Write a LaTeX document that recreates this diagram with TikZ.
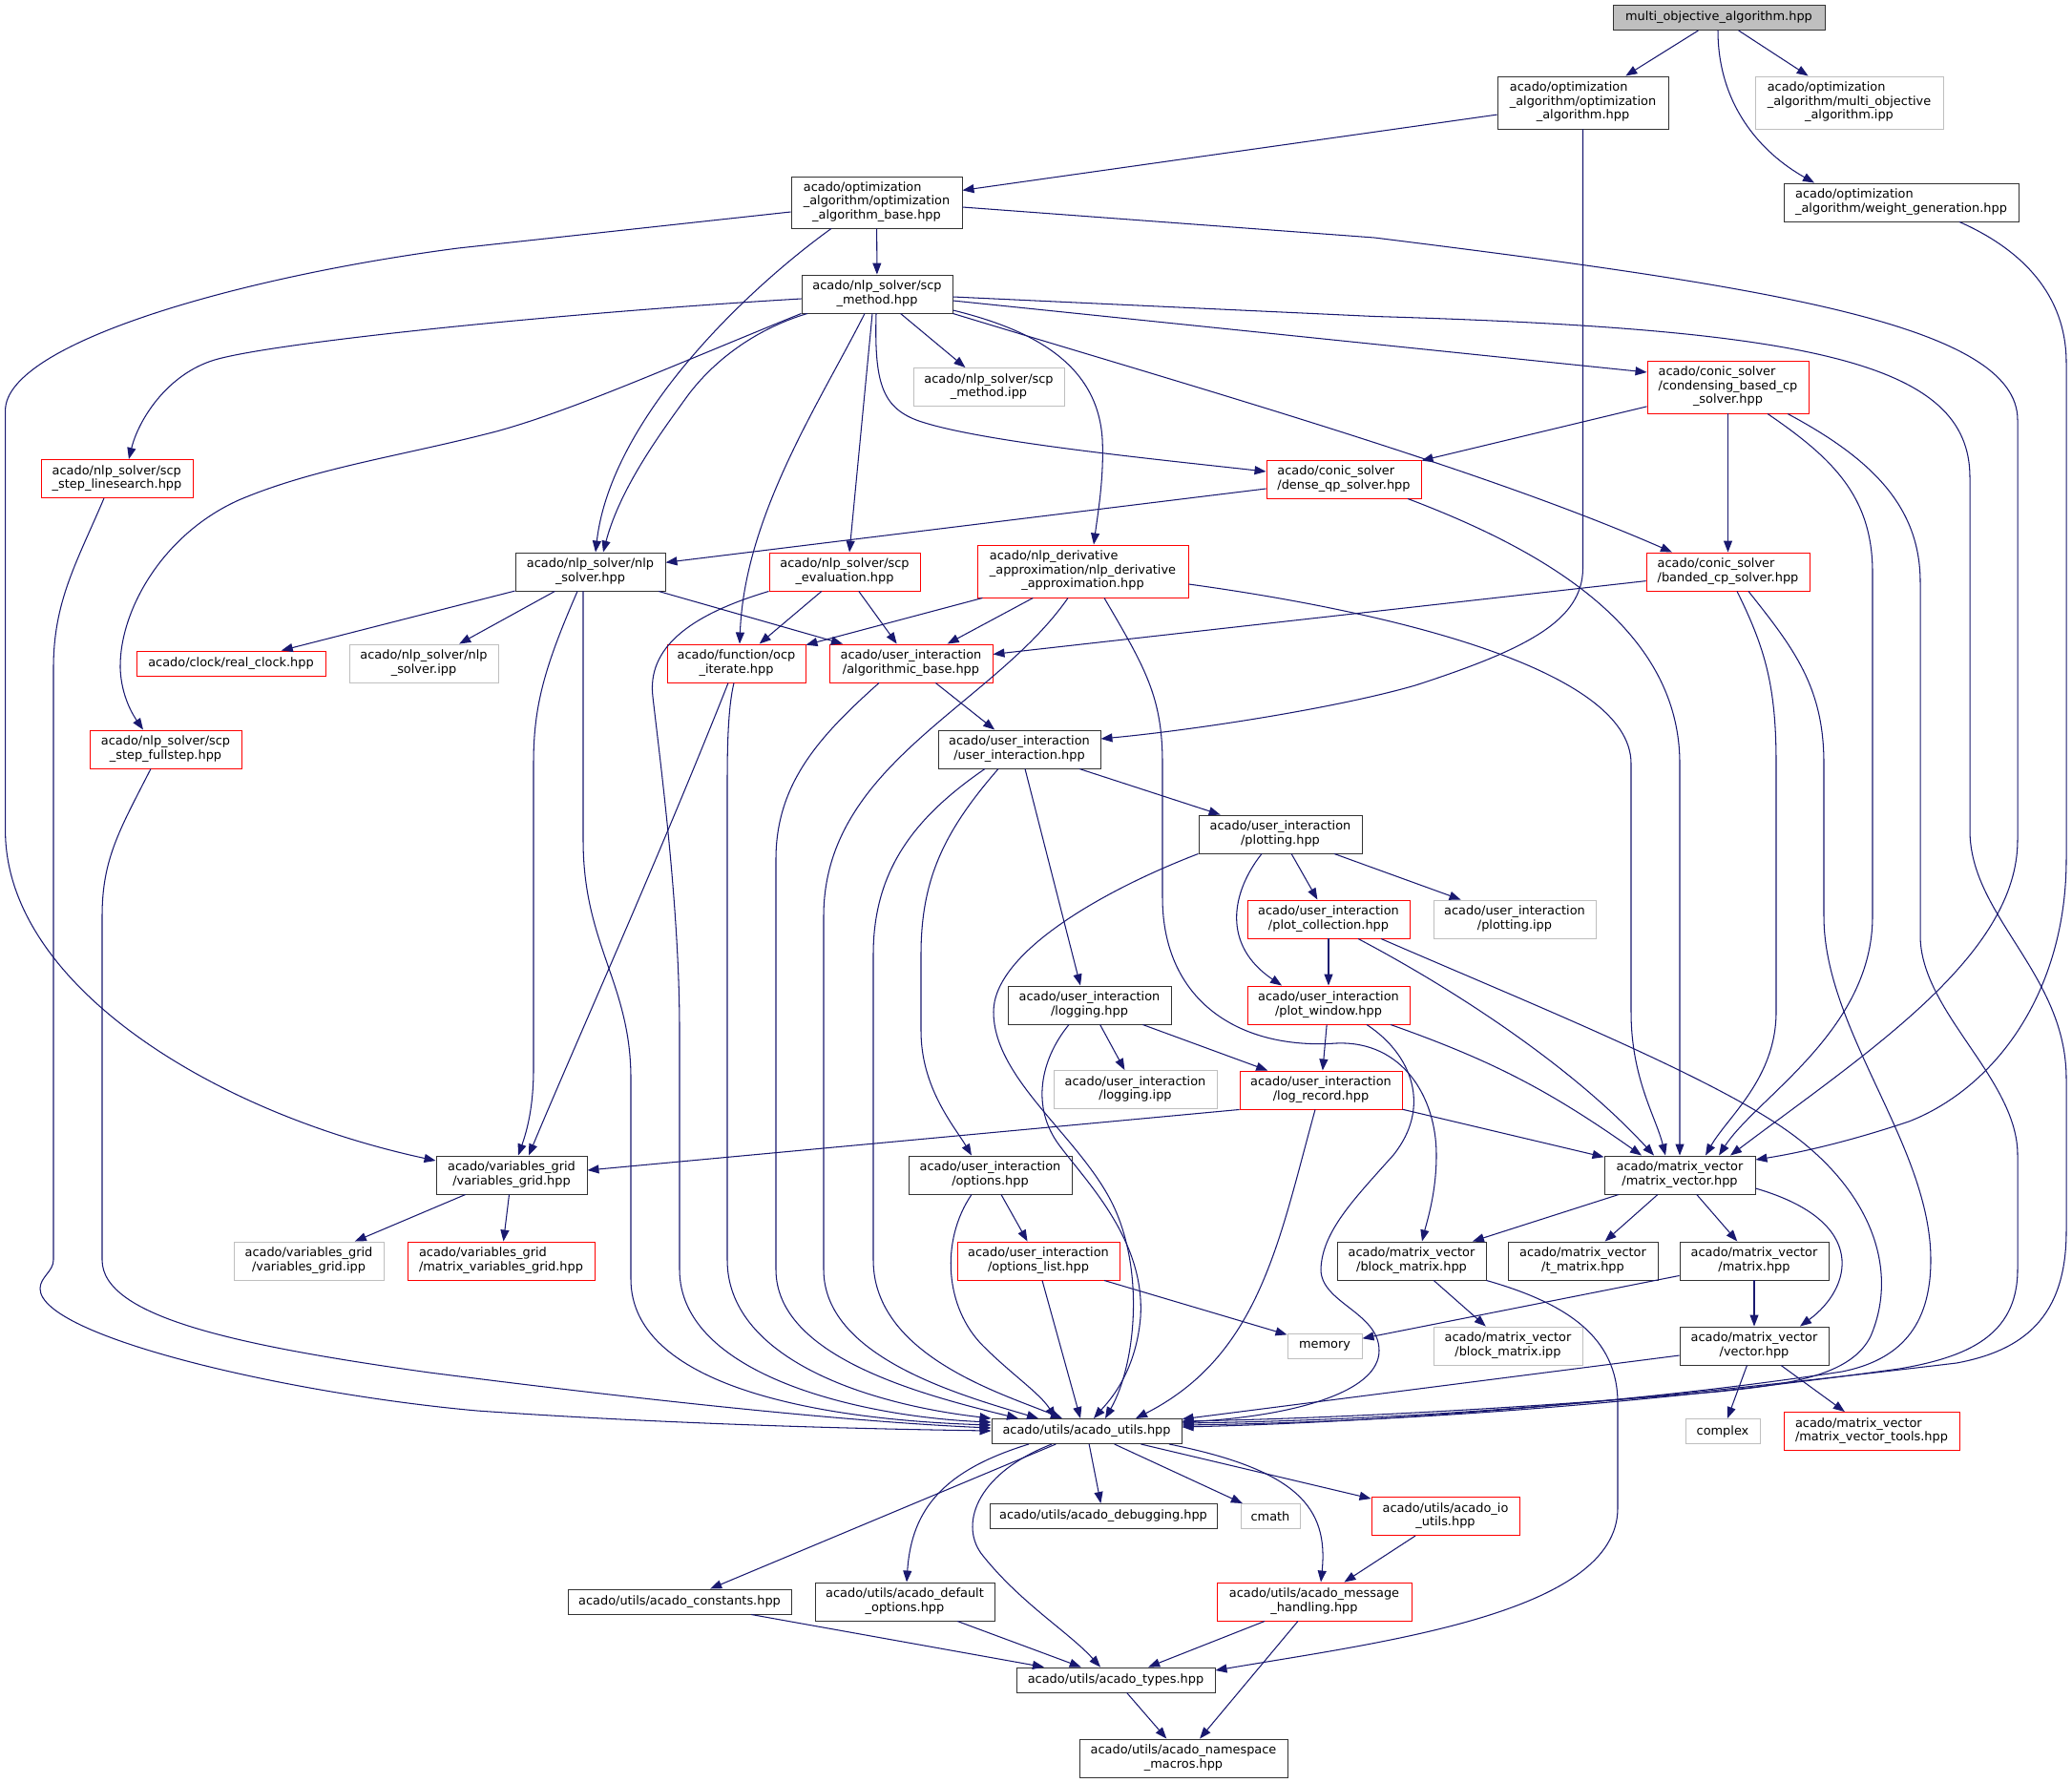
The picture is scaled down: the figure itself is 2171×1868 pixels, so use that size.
\documentclass[tikz,border=0pt]{standalone}
\usepackage{fontspec}
\setmainfont{DejaVu Sans}
\usetikzlibrary{arrows.meta}
\definecolor{edgec}{HTML}{191970}
\definecolor{blkb}{HTML}{333333}
\definecolor{redb}{HTML}{FF0000}
\definecolor{grayb}{HTML}{BFBFBF}
\newcommand\Ltwo[2]{\begin{tabular}{@{}l@{}}#1\\\multicolumn{1}{@{}c@{}}{#2}\end{tabular}}
\newcommand\Lthree[3]{\begin{tabular}{@{}l@{}}#1\\#2\\\multicolumn{1}{@{}c@{}}{#3}\end{tabular}}
\tikzset{
  nd/.style={draw, line width=0.95pt, fill=white, inner sep=0pt, text=black, font=\fontsize{12.9pt}{14.5pt}\selectfont},
  blk/.style={nd, draw=blkb},
  redn/.style={nd, draw=redb},
  gryn/.style={nd, draw=grayb},
  topn/.style={nd, draw=blkb, fill=grayb},
  bx/.style 2 args={minimum width=#1pt, minimum height=#2pt},
  edg/.style={draw=edgec, line width=1.05pt, -{Triangle[length=12pt,width=9pt]}},
}
\begin{document}
\begin{tikzpicture}[x=1pt,y=-1pt]
\fill[white] (0,0) rectangle (2171,1868);
\useasboundingbox (0,0) rectangle (2171,1868);

% ---------------- nodes ----------------
\node[topn,bx={222}{26}] (n1) at (1801,18.5) {multi\_objective\_algorithm.hpp};
\node[blk,bx={179}{55}] (oa) at (1658.5,107.5) {\Lthree{acado/optimization}{\_algorithm/optimization}{\_algorithm.hpp}};
\node[gryn,bx={197}{55}] (moipp) at (1937.5,107.5) {\Lthree{acado/optimization}{\_algorithm/multi\_objective}{\_algorithm.ipp}};
\node[blk,bx={246}{40}] (wg) at (1992,212) {\Ltwo{acado/optimization}{\_algorithm/weight\_generation.hpp}};
\node[blk,bx={179}{54}] (ob) at (918.5,212) {\Lthree{acado/optimization}{\_algorithm/optimization}{\_algorithm\_base.hpp}};
\node[blk,bx={158}{40}] (scp) at (919,308) {\Ltwo{acado/nlp\_solver/scp}{\_method.hpp}};
\node[gryn,bx={158}{40}] (scpipp) at (1036,405.5) {\Ltwo{acado/nlp\_solver/scp}{\_method.ipp}};
\node[redn,bx={159}{40}] (lsearch) at (122.5,501.5) {\Ltwo{acado/nlp\_solver/scp}{\_step\_linesearch.hpp}};
\node[redn,bx={169}{55}] (cond) at (1810.5,405.5) {\Lthree{acado/conic\_solver}{/condensing\_based\_cp}{\_solver.hpp}};
\node[redn,bx={162}{40}] (dqp) at (1408,502) {\Ltwo{acado/conic\_solver}{/dense\_qp\_solver.hpp}};
\node[blk,bx={157}{40}] (nlps) at (618.5,599) {\Ltwo{acado/nlp\_solver/nlp}{\_solver.hpp}};
\node[redn,bx={158}{40}] (scpev) at (885,599) {\Ltwo{acado/nlp\_solver/scp}{\_evaluation.hpp}};
\node[redn,bx={221}{55}] (nlpd) at (1134.5,598.5) {\Lthree{acado/nlp\_derivative}{\_approximation/nlp\_derivative}{\_approximation.hpp}};
\node[redn,bx={171}{40}] (banded) at (1810.5,599) {\Ltwo{acado/conic\_solver}{/banded\_cp\_solver.hpp}};
\node[redn,bx={198}{26}] (clock) at (242,695) {acado/clock/real\_clock.hpp};
\node[gryn,bx={156}{40}] (nlpipp) at (444,695) {\Ltwo{acado/nlp\_solver/nlp}{\_solver.ipp}};
\node[redn,bx={145}{40}] (ocp) at (771.5,695) {\Ltwo{acado/function/ocp}{\_iterate.hpp}};
\node[redn,bx={171}{40}] (algb) at (954.5,695) {\Ltwo{acado/user\_interaction}{/algorithmic\_base.hpp}};
\node[redn,bx={159}{40}] (fullstep) at (173.5,785) {\Ltwo{acado/nlp\_solver/scp}{\_step\_fullstep.hpp}};
\node[blk,bx={170}{40}] (ui) at (1068,785) {\Ltwo{acado/user\_interaction}{/user\_interaction.hpp}};
\node[blk,bx={171}{40}] (plotting) at (1341.5,874) {\Ltwo{acado/user\_interaction}{/plotting.hpp}};
\node[redn,bx={170}{40}] (plotcoll) at (1392,963) {\Ltwo{acado/user\_interaction}{/plot\_collection.hpp}};
\node[gryn,bx={170}{40}] (plotipp) at (1587,963) {\Ltwo{acado/user\_interaction}{/plotting.ipp}};
\node[blk,bx={171}{40}] (logging) at (1141.5,1053) {\Ltwo{acado/user\_interaction}{/logging.hpp}};
\node[redn,bx={170}{40}] (plotwin) at (1392,1053) {\Ltwo{acado/user\_interaction}{/plot\_window.hpp}};
\node[gryn,bx={171}{40}] (logipp) at (1189.5,1141.5) {\Ltwo{acado/user\_interaction}{/logging.ipp}};
\node[redn,bx={170}{40}] (logrec) at (1384,1142) {\Ltwo{acado/user\_interaction}{/log\_record.hpp}};
\node[blk,bx={158}{40}] (vg) at (536,1231) {\Ltwo{acado/variables\_grid}{/variables\_grid.hpp}};
\node[blk,bx={171}{40}] (opts) at (1037.5,1231) {\Ltwo{acado/user\_interaction}{/options.hpp}};
\node[blk,bx={158}{40}] (mv) at (1760,1231) {\Ltwo{acado/matrix\_vector}{/matrix\_vector.hpp}};
\node[gryn,bx={157}{40}] (vgipp) at (323.5,1321) {\Ltwo{acado/variables\_grid}{/variables\_grid.ipp}};
\node[redn,bx={196}{40}] (mvg) at (525,1321) {\Ltwo{acado/variables\_grid}{/matrix\_variables\_grid.hpp}};
\node[redn,bx={170}{40}] (optlist) at (1088,1321) {\Ltwo{acado/user\_interaction}{/options\_list.hpp}};
\node[blk,bx={156}{40}] (bm) at (1479,1321) {\Ltwo{acado/matrix\_vector}{/block\_matrix.hpp}};
\node[blk,bx={157}{40}] (tm) at (1658.5,1321) {\Ltwo{acado/matrix\_vector}{/t\_matrix.hpp}};
\node[blk,bx={156}{40}] (mat) at (1838,1321) {\Ltwo{acado/matrix\_vector}{/matrix.hpp}};
\node[gryn,bx={78}{26}] (memory) at (1388,1410) {memory};
\node[gryn,bx={156}{40}] (bmipp) at (1580,1410) {\Ltwo{acado/matrix\_vector}{/block\_matrix.ipp}};
\node[blk,bx={156}{40}] (vec) at (1838,1410) {\Ltwo{acado/matrix\_vector}{/vector.hpp}};
\node[blk,bx={199}{26}] (utils) at (1138.5,1499.5) {acado/utils/acado\_utils.hpp};
\node[gryn,bx={78}{26}] (complex) at (1805,1499.5) {complex};
\node[redn,bx={184}{40}] (mvt) at (1961,1499.5) {\Ltwo{acado/matrix\_vector}{/matrix\_vector\_tools.hpp}};
\node[blk,bx={238}{26}] (dbg) at (1156,1588.5) {acado/utils/acado\_debugging.hpp};
\node[gryn,bx={62}{26}] (cmath) at (1331,1588.5) {cmath};
\node[redn,bx={155}{40}] (io) at (1514.5,1588.5) {\Ltwo{acado/utils/acado\_io}{\_utils.hpp}};
\node[blk,bx={234}{26}] (const) at (712,1678) {acado/utils/acado\_constants.hpp};
\node[blk,bx={188}{40}] (defopt) at (948,1678) {\Ltwo{acado/utils/acado\_default}{\_options.hpp}};
\node[redn,bx={204}{40}] (msg) at (1377,1678) {\Ltwo{acado/utils/acado\_message}{\_handling.hpp}};
\node[blk,bx={208}{26}] (types) at (1169,1760) {acado/utils/acado\_types.hpp};
\node[blk,bx={218}{40}] (ns) at (1240,1842) {\Ltwo{acado/utils/acado\_namespace}{\_macros.hpp}};

% ---------------- edges ----------------
% top
\draw[edg] (n1) -- (oa);
\draw[edg] (n1) -- (moipp);
\draw[edg] (n1.south -| 1800,0) .. controls (1800,110) and (1845,160) .. (wg.north -| 1901,0);
\draw[edg] (oa) -- (ob);
\draw[edg] (oa.south) -- (1658.5,595) .. controls (1658.5,650) and (1600,680) .. (1483,718) .. controls (1400,742) and (1250,765) .. (ui.east |- 0,774);
\draw[edg] (wg.south -| 2053,0) .. controls (2120,262) and (2165,310) .. (2165,380) -- (2165,900) .. controls (2165,1040) and (2090,1140) .. (2000,1175) .. controls (1940,1195) and (1890,1207) .. (mv.east |- 0,1215);
% optimization_algorithm_base
\draw[edg] (ob) -- (scp);
\draw[edg] (ob.west |- 0,222) -- (480,260) .. controls (250,290) and (5.6,360) .. (5.6,430) -- (5.6,870) .. controls (5.6,1030) and (220,1165) .. (vg.west |- 0,1216);
\draw[edg] (ob.south -| 871,0) .. controls (780,305) and (640,440) .. (nlps.north -| 624,0);
\draw[edg] (ob.east |- 0,217) -- (1440,249) .. controls (1850,300) and (2114,340) .. (2114,440) -- (2114,880) .. controls (2114,1000) and (1960,1100) .. (mv.north -| 1813,0);
% scp_method
\draw[edg] (scp.west |- 0,313) .. controls (600,327) and (290,358) .. (225,377) .. controls (175,392) and (145,440) .. (lsearch.north -| 135,0);
\draw[edg] (scp.south west) .. controls (700,385) and (600,430) .. (520,452) .. controls (420,478) and (330,490) .. (250,524) .. controls (170,560) and (125,640) .. (126,700) .. controls (127,730) and (140,750) .. (fullstep.north -| 150,0);
\draw[edg] (scp.south -| 846,0) .. controls (790,345) and (745,380) .. (718,418) .. controls (695,450) and (650,510) .. (nlps.north -| 632,0);
\draw[edg] (scp) -- (scpipp);
\draw[edg] (scp.south -| 906,0) .. controls (860,420) and (780,540) .. (ocp.north -| 775,0);
\draw[edg] (scp.south -| 914,0) -- (scpev.north -| 890,0);
\draw[edg] (scp.south -| 918,0) .. controls (916,400) and (924,426) .. (960,440) .. controls (1020,462) and (1200,480) .. (dqp.west |- 0,494);
\draw[edg] (scp.east |- 0,325) .. controls (1080,345) and (1150,380) .. (1155,460) .. controls (1157,500) and (1150,540) .. (nlpd.north -| 1146,0);
\draw[edg] (scp.east |- 0,315) -- (cond.west |- 0,390);
\draw[edg] (scp.south east) .. controls (1250,405) and (1550,490) .. (banded.north -| 1752,0);
\draw[edg] (scp.east |- 0,311) -- (1440,331.5) .. controls (1900,345) and (2064,380) .. (2064,500) -- (2064,870) .. controls (2064,960) and (2165,1020) .. (2165,1130) -- (2165,1290) .. controls (2165,1380) and (2120,1415) .. (2050,1428) .. controls (1700,1470) and (1450,1490) .. (utils.east |- 0,1495);
% condensing based
\draw[edg] (cond) -- (dqp);
\draw[edg] (cond) -- (banded);
\draw[edg] (cond.south -| 1852,0) .. controls (1920,480) and (1962,520) .. (1962,600) -- (1962,960) .. controls (1962,1080) and (1840,1150) .. (mv.north -| 1801,0);
\draw[edg] (cond.south -| 1873,0) .. controls (1960,480) and (2012,530) .. (2012,610) -- (2012,980) .. controls (2012,1060) and (2114,1130) .. (2114,1210) -- (2114,1330) .. controls (2114,1400) and (2060,1422) .. (1990,1434) .. controls (1700,1474) and (1450,1490) .. (utils.east |- 0,1493);
% dense qp
\draw[edg] (dqp) -- (nlps);
\draw[edg] (dqp.south -| 1475,0) .. controls (1600,570) and (1760,650) .. (1760,800) -- (mv.north);
% linesearch / fullstep
\draw[edg] (lsearch.south -| 109,0) .. controls (80,590) and (56,630) .. (56,700) -- (56,1320) .. controls (56,1332) and (42,1338) .. (42,1350) .. controls (42,1400) and (300,1460) .. (500,1478) .. controls (700,1492) and (900,1497) .. (utils.west |- 0,1499);
\draw[edg] (fullstep.south -| 158,0) .. controls (125,870) and (107,900) .. (107,960) -- (107,1320) .. controls (107,1380) and (250,1410) .. (450,1438) .. controls (700,1470) and (900,1490) .. (utils.west |- 0,1496);
% nlp_solver
\draw[edg] (nlps) -- (clock);
\draw[edg] (nlps) -- (nlpipp);
\draw[edg] (nlps) -- (algb);
\draw[edg] (nlps.south -| 605,0) .. controls (570,700) and (559,740) .. (559,800) -- (559,1120) .. controls (559,1160) and (552,1185) .. (vg.north -| 543,0);
\draw[edg] (nlps.south -| 611,0) -- (611,880) .. controls (611,990) and (661,1030) .. (661,1130) -- (661,1340) .. controls (661,1450) and (850,1487) .. (utils.west |- 0,1493);
% scp_evaluation
\draw[edg] (scpev) -- (ocp);
\draw[edg] (scpev) -- (algb);
\draw[edg] (scpev.south west) .. controls (720,645) and (678,680) .. (684,730) .. controls (692,800) and (712,950) .. (712,1080) -- (712,1330) .. controls (712,1440) and (900,1484) .. (utils.west |- 0,1490);
% nlp derivative
\draw[edg] (nlpd) -- (ocp);
\draw[edg] (nlpd) -- (algb);
\draw[edg] (nlpd.south -| 1119,0) .. controls (1040,740) and (863,800) .. (863,960) -- (863,1330) .. controls (863,1420) and (1000,1460) .. (utils.north -| 1088,0);
\draw[edg] (nlpd.south -| 1157,0) .. controls (1200,700) and (1218,730) .. (1218,800) -- (1218,940) .. controls (1218,1050) and (1300,1100) .. (1400,1093) .. controls (1470,1090) and (1505,1150) .. (1505,1210) .. controls (1505,1250) and (1495,1280) .. (bm.north -| 1490,0);
\draw[edg] (nlpd.east |- 0,612) .. controls (1450,640) and (1709,700) .. (1709,800) -- (1709,1060) .. controls (1709,1130) and (1735,1170) .. (mv.north -| 1745,0);
% banded
\draw[edg] (banded) -- (algb);
\draw[edg] (banded.south -| 1820,0) .. controls (1850,680) and (1861,720) .. (1861,800) -- (1861,1060) .. controls (1861,1130) and (1810,1170) .. (mv.north -| 1787,0);
\draw[edg] (banded.south -| 1832,0) .. controls (1880,680) and (1911,720) .. (1911,800) -- (1911,960) .. controls (1911,1080) and (2023,1200) .. (2023,1320) .. controls (2023,1390) and (1990,1425) .. (1930,1437) .. controls (1700,1472) and (1450,1488) .. (utils.east |- 0,1491);
% ocp iterate
\draw[edg] (ocp.south -| 763,0) .. controls (690,900) and (600,1100) .. (vg.north -| 554,0);
\draw[edg] (ocp.south -| 769,0) .. controls (763,740) and (762,780) .. (762,820) -- (762,1320) .. controls (762,1420) and (900,1470) .. (utils.north west);
% algorithmic base
\draw[edg] (algb) -- (ui);
\draw[edg] (algb.south -| 921,0) .. controls (860,770) and (813,820) .. (813,900) -- (813,1330) .. controls (813,1420) and (960,1460) .. (utils.north -| 1067,0);
% user interaction
\draw[edg] (ui) -- (plotting);
\draw[edg] (ui.south -| 1074,0) -- (logging.north -| 1132,0);
\draw[edg] (ui.south -| 1046,0) .. controls (990,870) and (965,920) .. (965,1000) -- (965,1080) .. controls (965,1140) and (1000,1180) .. (opts.north -| 1018,0);
\draw[edg] (ui.south -| 1032,0) .. controls (960,855) and (915,910) .. (915,1000) -- (915,1320) .. controls (915,1420) and (1050,1460) .. (utils.north -| 1113,0);
% plotting
\draw[edg] (plotting) -- (plotcoll);
\draw[edg] (plotting) -- (plotipp);
\draw[edg] (plotting.south -| 1322,0) .. controls (1290,935) and (1280,990) .. (plotwin.north -| 1343,0);
\draw[edg] (plotting.south west) .. controls (1150,935) and (1041,1000) .. (1041,1060) .. controls (1041,1130) and (1130,1190) .. (1165,1260) .. controls (1200,1330) and (1190,1430) .. (utils.north -| 1158,0);
% plot collection
\draw[edg] (plotcoll) -- (plotwin);
\draw[edg] (plotcoll.south -| 1423,0) .. controls (1530,1040) and (1650,1120) .. (mv.north -| 1733,0);
\draw[edg] (plotcoll.south -| 1447,0) .. controls (1600,1050) and (1800,1130) .. (1880,1190) .. controls (1960,1250) and (1990,1330) .. (1960,1400) .. controls (1940,1440) and (1880,1450) .. (1800,1458) .. controls (1600,1475) and (1400,1486) .. (utils.east |- 0,1489);
% logging
\draw[edg] (logging) -- (logipp);
\draw[edg] (logging) -- (logrec);
\draw[edg] (logging.south -| 1120,0) .. controls (1090,1110) and (1080,1160) .. (1110,1200) .. controls (1140,1240) and (1200,1300) .. (1195,1380) .. controls (1190,1440) and (1160,1470) .. (utils.north -| 1146,0);
% plot window
\draw[edg] (plotwin) -- (logrec);
\draw[edg] (plotwin.south -| 1457,0) .. controls (1560,1110) and (1620,1140) .. (mv.north -| 1720,0);
\draw[edg] (plotwin.south -| 1432,0) .. controls (1480,1105) and (1500,1160) .. (1460,1210) .. controls (1420,1255) and (1385,1290) .. (1384,1330) .. controls (1384,1365) and (1445,1375) .. (1445,1415) .. controls (1445,1460) and (1350,1484) .. (utils.east |- 0,1490);
% log record
\draw[edg] (logrec.south west) -- (vg.east |- 0,1226);
\draw[edg] (logrec) -- (mv);
\draw[edg] (logrec.south -| 1378,0) .. controls (1340,1300) and (1320,1420) .. (utils.north -| 1190,0);
% variables grid
\draw[edg] (vg) -- (vgipp);
\draw[edg] (vg) -- (mvg);
% options
\draw[edg] (opts) -- (optlist);
\draw[edg] (opts.south -| 1018,0) .. controls (985,1300) and (990,1370) .. (1030,1410) .. controls (1060,1440) and (1090,1460) .. (utils.north -| 1106,0);
\draw[edg] (optlist) -- (memory);
\draw[edg] (optlist.south -| 1092,0) -- (utils.north -| 1132,0);
% matrix vector
\draw[edg] (mv) -- (bm);
\draw[edg] (mv) -- (tm);
\draw[edg] (mv) -- (mat);
\draw[edg] (mv.east |- 0,1245) .. controls (1960,1280) and (1940,1350) .. (vec.north -| 1886,0);
\draw[edg] (bm) -- (bmipp);
\draw[edg] (bm.south east) .. controls (1640,1365) and (1695,1400) .. (1695,1470) -- (1695,1580) .. controls (1695,1690) and (1450,1720) .. (types.east |- 0,1750);
\draw[edg] (mat) -- (memory);
\draw[edg] (mat) -- (vec);
\draw[edg] (vec) -- (utils);
\draw[edg] (vec) -- (complex);
\draw[edg] (vec) -- (mvt);
% utils
\draw[edg] (utils) -- (const);
\draw[edg] (utils.south -| 1078,0) .. controls (990,1540) and (955,1580) .. (defopt.north -| 950,0);
\draw[edg] (utils.south -| 1102,0) .. controls (1020,1545) and (1005,1600) .. (1030,1630) .. controls (1070,1680) and (1120,1710) .. (types.north -| 1153,0);
\draw[edg] (utils) -- (dbg);
\draw[edg] (utils) -- (cmath);
\draw[edg] (utils) -- (io);
\draw[edg] (utils.south -| 1225,0) .. controls (1360,1540) and (1392,1580) .. (msg.north -| 1384,0);
\draw[edg] (io) -- (msg);
\draw[edg] (const) -- (types);
\draw[edg] (defopt) -- (types);
\draw[edg] (msg) -- (types);
\draw[edg] (msg) -- (ns);
\draw[edg] (types) -- (ns);
\end{tikzpicture}
\end{document}
